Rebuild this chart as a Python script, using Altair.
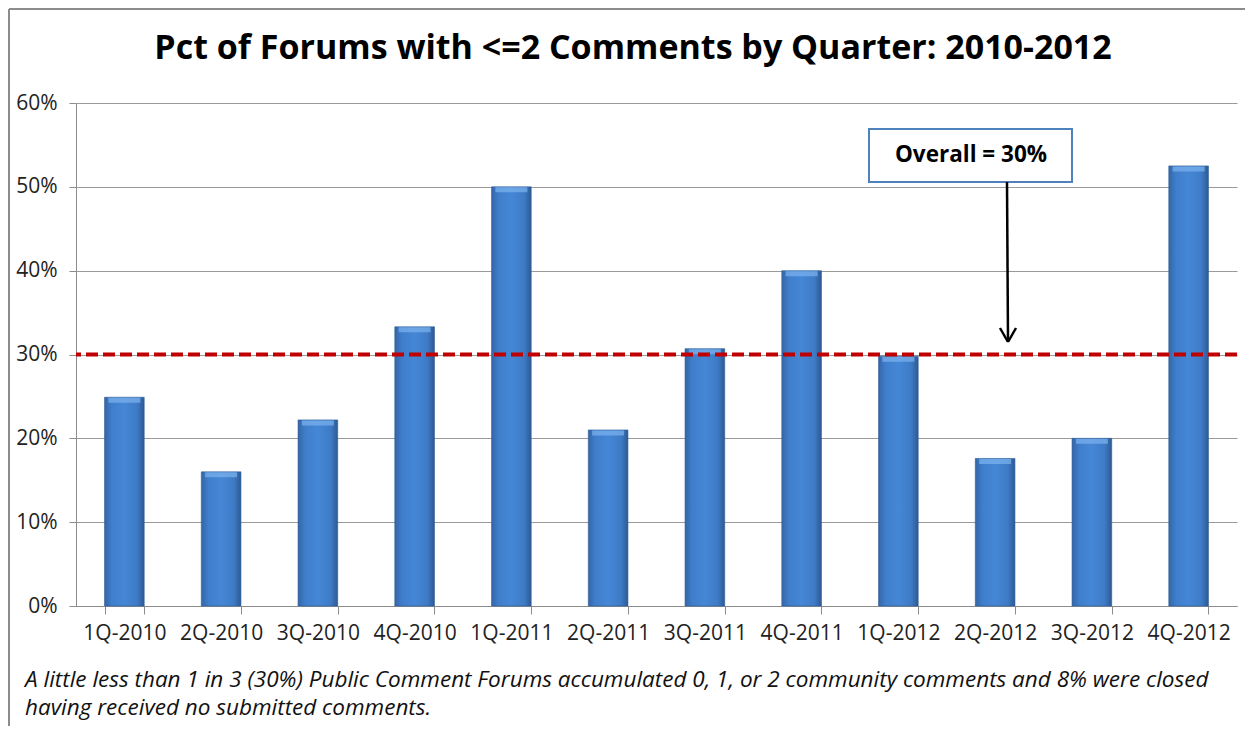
import altair as alt
import pandas as pd

# ---- data ----
quarters = ["1Q-2010", "2Q-2010", "3Q-2010", "4Q-2010",
            "1Q-2011", "2Q-2011", "3Q-2011", "4Q-2011",
            "1Q-2012", "2Q-2012", "3Q-2012", "4Q-2012"]
pct = [0.249, 0.160, 0.222, 0.333, 0.500, 0.210, 0.307, 0.400, 0.298, 0.176, 0.200, 0.525]
overall = [0.30]
y_ticks = [0, 0.1, 0.2, 0.3, 0.4, 0.5, 0.6]
title_text = ["Pct of Forums with <=2 Comments by Quarter: 2010-2012"]
annotation_text = ["Overall = 30%"]
footnote_lines = [
    "A little less than 1 in 3 (30%) Public Comment Forums accumulated 0, 1, or 2 community comments and 8% were closed",
    "having received no submitted comments.",
]

FONT = "Open Sans"
AXIS_FONT = "Open Sans"
W, H = 1161, 503

df = pd.DataFrame({"quarter": quarters, "pct": pct})
df_overall = pd.DataFrame({"overall": overall})

x_enc = alt.X("quarter:N", sort=quarters,
              scale=alt.Scale(paddingInner=0.59, paddingOuter=0.295),
              axis=alt.Axis(title=None, labelAngle=0, labelFont=AXIS_FONT, labelFontSize=21,
                            labelColor="#222222", tickBand="extent", tickSize=8,
                            tickColor="#8c8c8c", domainColor="#8c8c8c", labelPadding=8,
                            grid=False))
y_enc = alt.Y("pct:Q",
              scale=alt.Scale(domain=[0, 0.6], nice=False),
              axis=alt.Axis(title=None, format=".0%", values=y_ticks, labelFont=AXIS_FONT,
                            labelFontSize=21, labelColor="#222222", tickSize=7,
                            tickColor="#8c8c8c", domainColor="#8c8c8c", gridColor="#9a9a9a",
                            gridWidth=1, labelPadding=12))

bar_fill = alt.Gradient(
    gradient="linear",
    stops=[alt.GradientStop(color="#3466A8", offset=0),
           alt.GradientStop(color="#3F7ECB", offset=0.18),
           alt.GradientStop(color="#4587D6", offset=0.5),
           alt.GradientStop(color="#3E7BC6", offset=0.82),
           alt.GradientStop(color="#2D5A93", offset=1)],
    x1=0, x2=1, y1=0, y2=0)

bars = alt.Chart(df).mark_bar(color=bar_fill, stroke="#2E5C96", strokeWidth=0.6).encode(
    x=x_enc, y=y_enc)

bevel = alt.Chart(df).mark_tick(color="#7DB3EE", thickness=5, size=32, yOffset=3).encode(
    x=alt.X("quarter:N", sort=quarters), y="pct:Q")

overall_line = alt.Chart(df_overall).mark_rule(
    color="#C00000", strokeWidth=4, strokeDash=[12, 5]).encode(y="overall:Q")

# annotation box + arrow (plot-area pixel positions)
ann = pd.DataFrame({"label": annotation_text})
box = alt.Chart(ann).mark_rect(fill="white", stroke="#4F81BD", strokeWidth=2).encode(
    x=alt.value(793), x2=alt.value(996), y=alt.value(26), y2=alt.value(79))
box_text = alt.Chart(ann).mark_text(font=FONT, fontSize=22.5, fontWeight="bold",
                                    color="black").encode(
    x=alt.value(895), y=alt.value(52), text="label:N")
arrow_shaft = alt.Chart(ann).mark_rule(color="black", strokeWidth=2.5).encode(
    x=alt.value(931), x2=alt.value(932), y=alt.value(79), y2=alt.value(238))
arrow_l = alt.Chart(ann).mark_rule(color="black", strokeWidth=2.5).encode(
    x=alt.value(924), x2=alt.value(932), y=alt.value(225), y2=alt.value(239))
arrow_r = alt.Chart(ann).mark_rule(color="black", strokeWidth=2.5).encode(
    x=alt.value(940), x2=alt.value(932), y=alt.value(225), y2=alt.value(239))

ttl = pd.DataFrame({"t": title_text})
title = alt.Chart(ttl).mark_text(font=FONT, fontSize=34, fontWeight="bold", color="black",
                                 align="center", baseline="alphabetic").encode(
    x=alt.value(557), y=alt.value(-44), text="t:N")

foot = pd.DataFrame({"line": ["\n".join(footnote_lines)]})
footnote = alt.Chart(foot).mark_text(font=FONT, fontSize=22.5, fontStyle="italic",
                                     align="left", baseline="alphabetic", lineBreak="\n",
                                     lineHeight=28, color="#111111").encode(
    x=alt.value(-51), y=alt.value(584), text="line:N")

frame_left = alt.Chart(ann).mark_rule(color="#8c8c8c", strokeWidth=2).encode(
    x=alt.value(-67), y=alt.value(-94), y2=alt.value(H + 120))
frame_top = alt.Chart(ann).mark_rule(color="#8c8c8c", strokeWidth=2).encode(
    x=alt.value(-67), x2=alt.value(W + 8), y=alt.value(-94))

chart = alt.layer(
    bars, bevel, overall_line, box, box_text, arrow_shaft, arrow_l, arrow_r,
    title, footnote, frame_left, frame_top
).properties(
    width=W, height=H,
    autosize=alt.AutoSizeParams(type="none"),
    padding={"left": 68, "top": 95, "right": 8, "bottom": 120},
).configure_view(stroke=None)

chart.save("out.html", embed_options={"renderer": "svg", "actions": False})
